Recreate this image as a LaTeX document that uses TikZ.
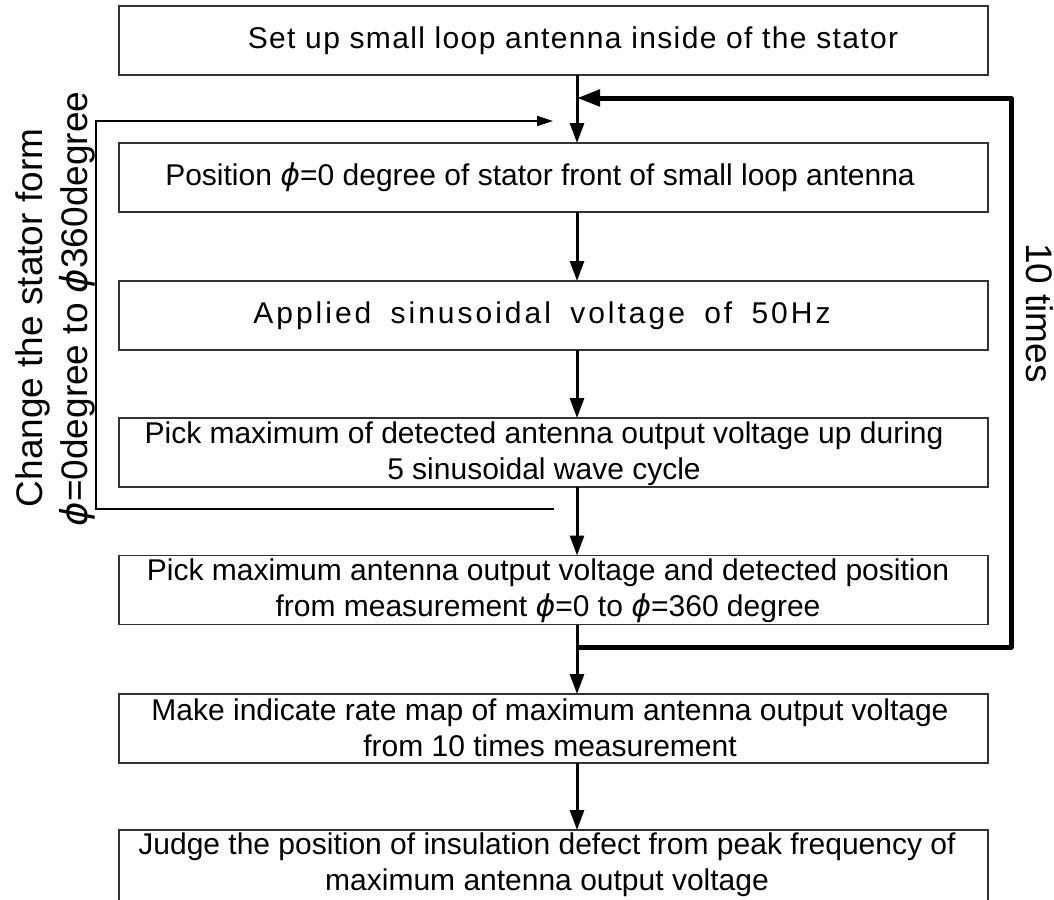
\documentclass[tikz,border=0pt]{standalone}
\usepackage{fontspec}
\setmainfont{Liberation Sans}
\newfontfamily\phifont{DejaVu Sans}
\newfontfamily\widefont{Liberation Sans}[LetterSpace=4.5]
\newfontfamily\widerfont{Liberation Sans}[LetterSpace=10, WordSpace=1.7]
\usetikzlibrary{arrows.meta}
\newcommand\phisym{{\phifont\itshape ϕ}}

\begin{document}
\begin{tikzpicture}[x=1pt,y=-1pt,
  stepbox/.style={draw=black!80, line width=1.3pt, minimum width=869pt,
    minimum height=69pt, inner sep=0pt, outer sep=0pt},
  steptext/.style={font=\fontsize{30}{36}\selectfont, align=center, inner sep=0pt},
  flow/.style={line width=3pt, -{Triangle[length=20pt,width=14pt]}},
  loopback/.style={line width=5pt, line join=round, -{Triangle[length=23pt,width=16pt]}},
  retry/.style={line width=1.8pt, -{Triangle[length=16pt,width=10pt]}},
  sidetext/.style={font=\fontsize{37}{44}\selectfont, inner sep=0pt}]
\useasboundingbox (0,0) rectangle (1054,899);

% process steps
\node[stepbox] (b1) at (553.5,40.5) {};
\node[stepbox] (b2) at (553.5,177.5) {};
\node[stepbox] (b3) at (553.5,315.5) {};
\node[stepbox] (b4) at (553.5,452.5) {};
\node[stepbox] (b5) at (553.5,590) {};
\node[stepbox] (b6) at (553.5,728.5) {};
\node[stepbox, minimum height=72pt] (b7) at (553.5,866) {};

\node[steptext] (t1) at (573,40.5) {\widefont Set up small loop antenna inside of the stator};
\node[steptext] (t2) at (540,177.5) {Position \phisym=0 degree of stator front of small loop antenna};
\node[steptext] (t3) at (542,315.5) {\widerfont Applied sinusoidal voltage of 50Hz};
\node[steptext] (t4) at (544,454) {Pick maximum of detected antenna output voltage up during\\5 sinusoidal wave cycle};
\node[steptext] (t5) at (548,591) {Pick maximum antenna output voltage and detected position\\from measurement \phisym=0 to \phisym=360 degree};
\node[steptext] (t6) at (550,727.5) {Make indicate rate map of maximum antenna output voltage\\from 10 times measurement};
\node[steptext] (t7) at (547,865) {Judge the position of insulation defect from peak frequency of\\maximum antenna output voltage};

% main flow axis
\coordinate (axis) at (577,0);
\draw[flow] (b1.south -| axis) -- (b2.north -| axis);
\draw[flow] (b2.south -| axis) -- (b3.north -| axis);
\draw[flow] (b3.south -| axis) -- (b4.north -| axis);
\draw[flow] (b4.south -| axis) -- (b5.north -| axis);
\draw[flow] (b5.south -| axis) -- (b6.north -| axis);
\draw[flow] (b6.south -| axis) -- (b7.north -| axis);

% repeat the whole measurement ten times
\coordinate (rjoin) at (575.5,647);
\coordinate (rtop) at (1011,98);
\draw[loopback] (rjoin) -- (rjoin -| rtop) -- (rtop) -- (rtop -| axis);
\node[sidetext, rotate=-90, anchor=base] (ten) at (1026,313) {10 times};

% step the stator angle
\coordinate (lstart) at (554,509);
\coordinate (lcorner) at (96,121);
\coordinate (ltip) at (553,121);
\draw[retry] (lstart) -- (lstart -| lcorner) -- (lcorner) -- (ltip);
\node[sidetext, rotate=90, anchor=base] (sa) at (42,318) {Change the stator form};
\node[sidetext, rotate=90, anchor=base] (sb) at (87,309) {\phisym=0degree to \phisym360degree};
\end{tikzpicture}
\end{document}
